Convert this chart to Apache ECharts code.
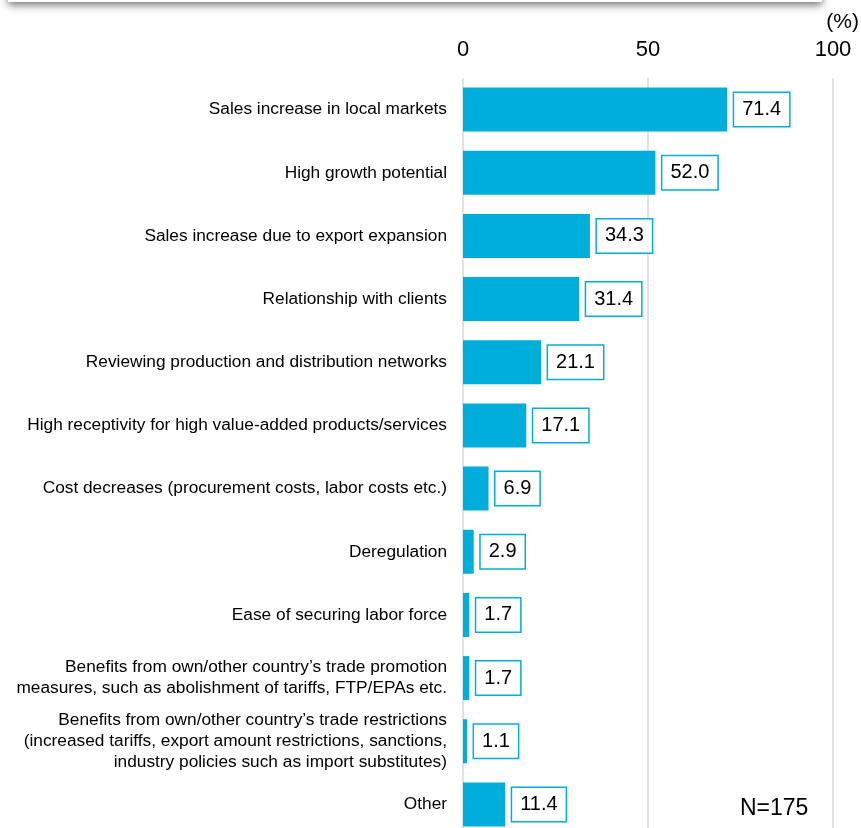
<!DOCTYPE html>
<html><head><meta charset="utf-8">
<script src="https://cdn.jsdelivr.net/npm/echarts@6/dist/echarts.min.js"></script>
<style>html,body{margin:0;padding:0;background:#fff;overflow:hidden}#c{width:861px;height:840px}</style>
</head><body><div id="c"></div>
<script>
var categories = [
  "Sales increase in local markets",
  "High growth potential",
  "Sales increase due to export expansion",
  "Relationship with clients",
  "Reviewing production and distribution networks",
  "High receptivity for high value-added products/services",
  "Cost decreases (procurement costs, labor costs etc.)",
  "Deregulation",
  "Ease of securing labor force",
  "Benefits from own/other country\u2019s trade promotion\nmeasures, such as abolishment of tariffs, FTP/EPAs etc.",
  "Benefits from own/other country\u2019s trade restrictions\n(increased tariffs, export amount restrictions, sanctions,\nindustry policies such as import substitutes)",
  "Other"
];
var values = [71.4, 52.0, 34.3, 31.4, 21.1, 17.1, 6.9, 2.9, 1.7, 1.7, 1.1, 11.4];
var xTicks = [0, 50, 100];

var FONT = 'Liberation Sans, Arial, sans-serif';
var chart = echarts.init(document.getElementById('c'));
chart.setOption({
  animation: false,
  grid: { left: 463, right: 28, top: 78, bottom: 4 },
  xAxis: {
    type: 'value', position: 'top', min: 0, max: 100, interval: 50,
    axisLine: { show: false }, axisTick: { show: false },
    axisLabel: { fontSize: 22, color: '#000', margin: 17, fontFamily: FONT,
      formatter: function (v) { return xTicks.indexOf(v) >= 0 ? String(v) : ''; } },
    splitLine: { lineStyle: { color: '#d9d9d9', width: 1.5 } }
  },
  yAxis: {
    type: 'category', inverse: true, data: categories,
    axisLine: { show: false }, axisTick: { show: false },
    axisLabel: { fontSize: 17.3, color: '#000', margin: 16, lineHeight: 21, align: 'right',
      fontFamily: FONT }
  },
  series: [{
    type: 'bar', data: values, barWidth: 44,
    itemStyle: { color: '#00AEDB' },
    label: {
      show: true, position: 'right', distance: 7,
      formatter: function (p) { return p.value.toFixed(1); },
      fontSize: 20, color: '#000', fontFamily: FONT,
      backgroundColor: '#fff', borderColor: '#00AEDB', borderWidth: 1.5,
      padding: [7, 8, 6, 8]
    }
  }],
  graphic: [
    { type: 'rect', shape: { x: 8, y: -30, width: 814, height: 32 },
      style: { fill: '#fff', shadowBlur: 8, shadowColor: 'rgba(0,0,0,0.55)', shadowOffsetY: 3 } },
    { type: 'text', right: 2, top: 12, style: { text: '(%)', fontSize: 21, fill: '#000', fontFamily: FONT } },
    { type: 'text', left: 740, top: 797, style: { text: 'N=175', fontSize: 23, fill: '#000', fontFamily: FONT } }
  ]
});
</script></body></html>
